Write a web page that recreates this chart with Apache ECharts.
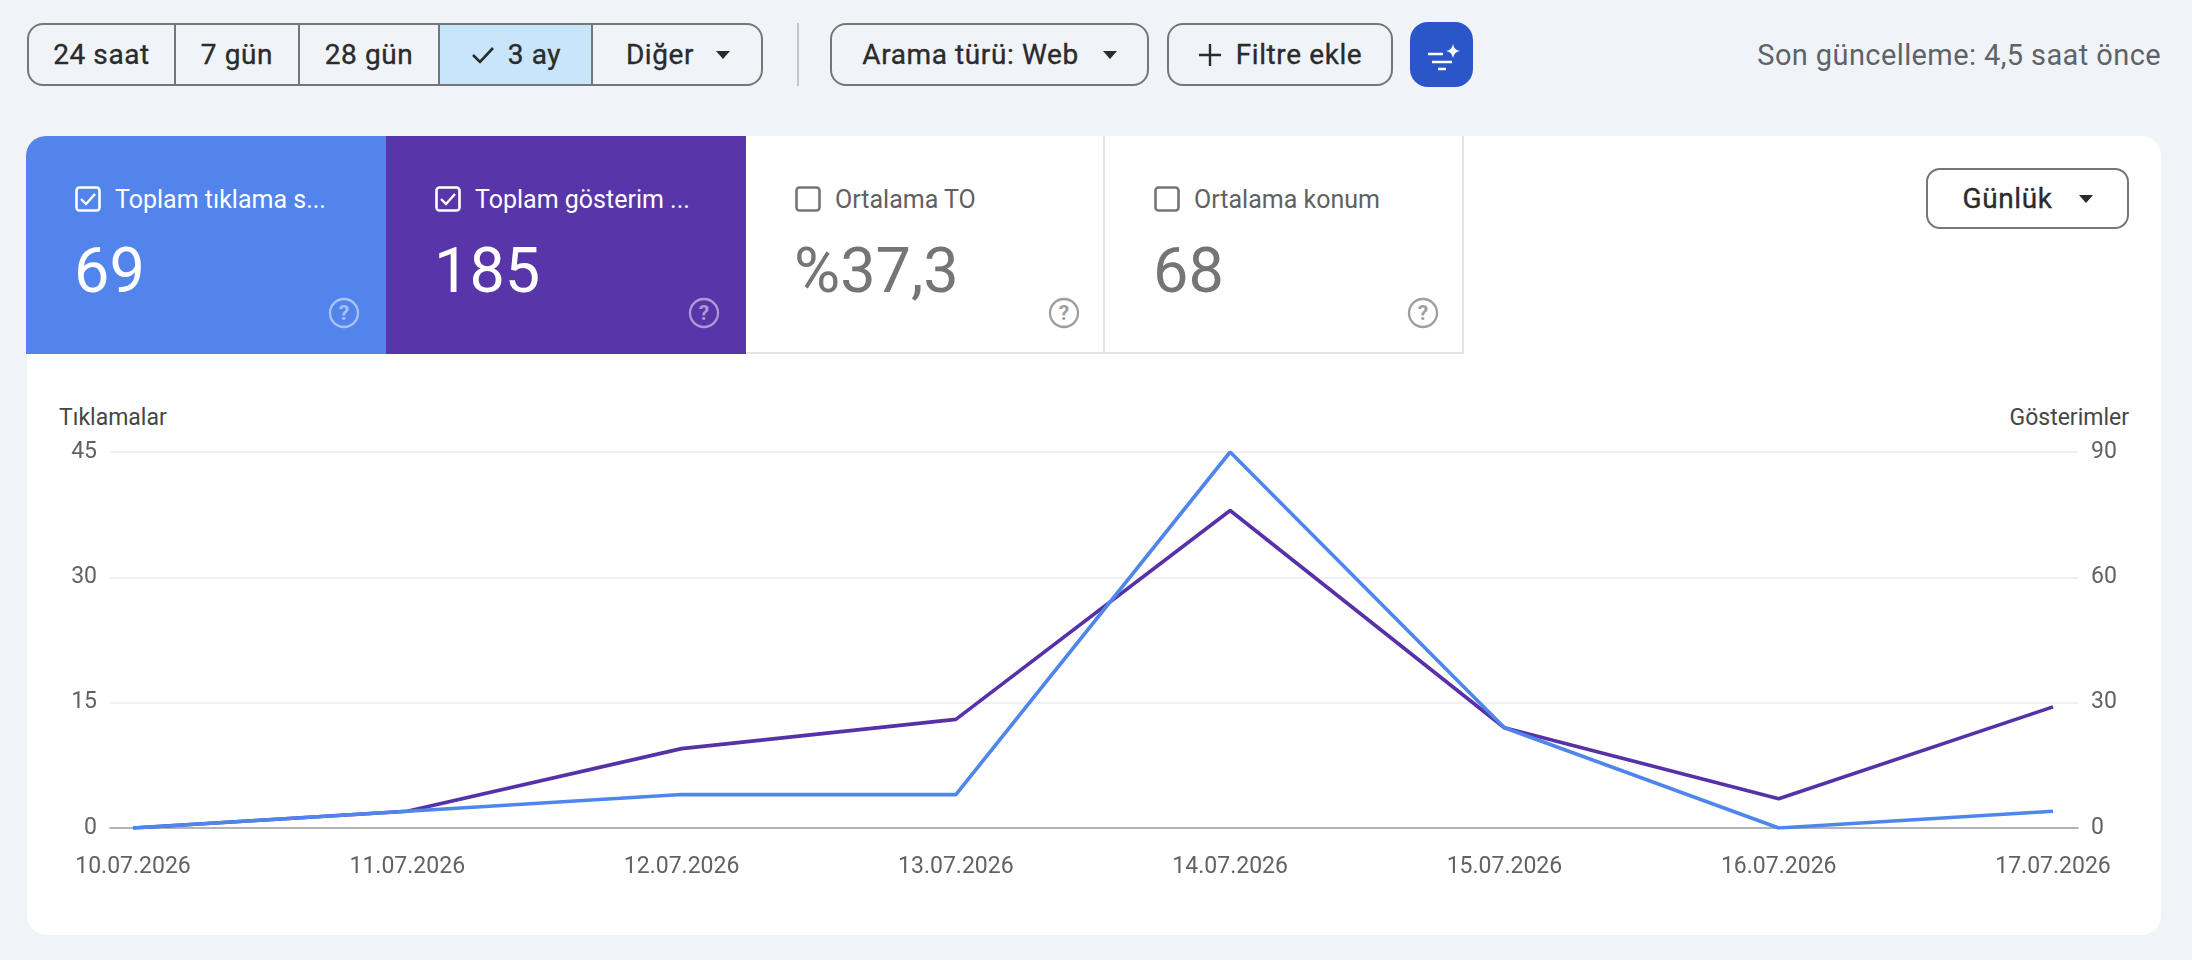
<!DOCTYPE html>
<html>
<head>
<meta charset="utf-8">
<script src="https://cdn.jsdelivr.net/npm/echarts@6/dist/echarts.min.js"></script>
<style>
  html,body{margin:0;padding:0;width:2192px;height:960px;background:#f0f4f9;font-family:Roboto,"Noto Sans",sans-serif;overflow:hidden;}
  .abs{position:absolute;}
  .btn{position:absolute;box-sizing:border-box;border:2px solid #747775;border-radius:16px;display:flex;align-items:center;justify-content:center;font-size:28px;font-weight:400;color:#2b2b2b;letter-spacing:0.6px;-webkit-text-stroke:0.35px #2b2b2b;}
  .seg{position:absolute;top:0;bottom:0;display:flex;align-items:center;justify-content:center;box-sizing:border-box;}
  .tri{width:0;height:0;border-left:7px solid transparent;border-right:7px solid transparent;border-top:8px solid #2b2b2b;}
  .tile{position:absolute;top:136px;height:218px;box-sizing:border-box;}
  .tile .cb{position:absolute;left:49px;top:50px;}
  .tile .lbl{position:absolute;left:89px;top:49px;line-height:30px;font-size:25px;white-space:nowrap;}
  .tile .num{position:absolute;left:48px;top:103px;font-size:63px;line-height:63px;}
  .tile .help{position:absolute;left:302px;top:161px;}
  .axname{position:absolute;top:404px;font-size:23px;color:#444746;line-height:28px;}
</style>
</head>
<body>
<!-- top toolbar -->
<div class="btn" style="left:27px;top:23px;width:736px;height:63px;overflow:hidden;justify-content:flex-start;">
  <div class="seg" style="left:0;width:147px;border-right:2px solid #747775;">24 saat</div>
  <div class="seg" style="left:147px;width:124px;border-right:2px solid #747775;">7 gün</div>
  <div class="seg" style="left:271px;width:140px;border-right:2px solid #747775;">28 gün</div>
  <div class="seg" style="left:411px;width:153px;border-right:2px solid #747775;background:#c9e5fb;">
    <svg width="26" height="22" viewBox="0 0 26 22" style="margin-right:12px"><path d="M3 11 L10 18 L23 4" fill="none" stroke="#2b2b2b" stroke-width="2.6"/></svg>3 ay</div>
  <div class="seg" style="left:564px;width:170px;"><span style="margin-right:22px">Diğer</span><div class="tri"></div></div>
</div>
<div class="abs" style="left:797px;top:23px;width:2px;height:63px;background:#c4c7c5;"></div>
<div class="btn" style="left:830px;top:23px;width:319px;height:63px;"><span style="margin-right:24px">Arama türü: Web</span><div class="tri"></div></div>
<div class="btn" style="left:1167px;top:23px;width:226px;height:63px;">
  <svg width="24" height="24" viewBox="0 0 24 24" style="margin-right:14px"><path d="M12 1 V23 M1 12 H23" stroke="#2b2b2b" stroke-width="2.4"/></svg>Filtre ekle</div>
<div class="abs" style="left:1410px;top:22px;width:63px;height:65px;border-radius:18px;background:#2a56c9;">
  <svg width="63" height="65" viewBox="0 0 63 65">
    <path d="M18 32 H33 M22 40 H42 M28 47 H36" stroke="#fff" stroke-width="2.6"/>
    <path d="M43 22 Q44 28 50 29 Q44 30 43 36 Q42 30 36 29 Q42 28 43 22 Z" fill="#fff"/>
  </svg>
</div>
<div class="abs" style="right:31px;top:37px;font-size:29px;line-height:36px;color:#5f6368;letter-spacing:0.4px;">Son güncelleme: 4,5 saat önce</div>

<!-- card -->
<div class="abs" style="left:27px;top:136px;width:2134px;height:799px;background:#fff;border-radius:20px;"></div>

<div class="tile" style="left:26px;width:360px;background:#5284ec;border-top-left-radius:20px;color:#fff;">
  <svg class="cb" width="26" height="26" viewBox="0 0 26 26"><rect x="1.5" y="1.5" width="23" height="23" rx="3" fill="none" stroke="#fff" stroke-width="2.6"/><path d="M6 13 L11 18 L20 8" fill="none" stroke="#fff" stroke-width="2.4"/></svg>
  <div class="lbl">Toplam tıklama s...</div>
  <div class="num">69</div>
  <svg class="help" width="32" height="32" viewBox="0 0 32 32"><circle cx="16" cy="16" r="14" fill="none" stroke="rgba(255,255,255,0.5)" stroke-width="2.3"/><text x="16" y="23" text-anchor="middle" font-size="21" font-weight="700" font-family="Roboto" fill="rgba(255,255,255,0.5)">?</text></svg>
</div>
<div class="tile" style="left:386px;width:360px;background:#5835a9;color:#fff;">
  <svg class="cb" width="26" height="26" viewBox="0 0 26 26"><rect x="1.5" y="1.5" width="23" height="23" rx="3" fill="none" stroke="#fff" stroke-width="2.6"/><path d="M6 13 L11 18 L20 8" fill="none" stroke="#fff" stroke-width="2.4"/></svg>
  <div class="lbl">Toplam gösterim ...</div>
  <div class="num">185</div>
  <svg class="help" width="32" height="32" viewBox="0 0 32 32"><circle cx="16" cy="16" r="14" fill="none" stroke="rgba(255,255,255,0.5)" stroke-width="2.3"/><text x="16" y="23" text-anchor="middle" font-size="21" font-weight="700" font-family="Roboto" fill="rgba(255,255,255,0.5)">?</text></svg>
</div>
<div class="tile" style="left:746px;width:359px;background:#fff;color:#757575;border-right:2px solid #e3e3e3;border-bottom:2px solid #e3e3e3;">
  <svg class="cb" width="26" height="26" viewBox="0 0 26 26"><rect x="1.5" y="1.5" width="23" height="23" rx="3" fill="none" stroke="#757575" stroke-width="2.6"/></svg>
  <div class="lbl" style="color:#616161">Ortalama TO</div>
  <div class="num">%37,3</div>
  <svg class="help" width="32" height="32" viewBox="0 0 32 32"><circle cx="16" cy="16" r="14" fill="none" stroke="#9e9e9e" stroke-width="2.3"/><text x="16" y="23" text-anchor="middle" font-size="21" font-weight="700" font-family="Roboto" fill="#9e9e9e">?</text></svg>
</div>
<div class="tile" style="left:1105px;width:359px;background:#fff;color:#757575;border-right:2px solid #e3e3e3;border-bottom:2px solid #e3e3e3;">
  <svg class="cb" width="26" height="26" viewBox="0 0 26 26"><rect x="1.5" y="1.5" width="23" height="23" rx="3" fill="none" stroke="#757575" stroke-width="2.6"/></svg>
  <div class="lbl" style="color:#616161">Ortalama konum</div>
  <div class="num">68</div>
  <svg class="help" width="32" height="32" viewBox="0 0 32 32"><circle cx="16" cy="16" r="14" fill="none" stroke="#9e9e9e" stroke-width="2.3"/><text x="16" y="23" text-anchor="middle" font-size="21" font-weight="700" font-family="Roboto" fill="#9e9e9e">?</text></svg>
</div>

<div class="btn" style="left:1926px;top:168px;width:203px;height:61px;border-radius:14px;"><span style="margin-right:26px">Günlük</span><div class="tri"></div></div>

<div class="axname" style="left:59px;">Tıklamalar</div>
<div class="axname" style="right:63px;">Gösterimler</div>

<div id="chart" class="abs" style="left:0;top:380px;width:2192px;height:560px;"></div>

<script>
const dates = ['10.07.2026','11.07.2026','12.07.2026','13.07.2026','14.07.2026','15.07.2026','16.07.2026','17.07.2026'];
const clicks = [0, 2, 4, 4, 45, 12, 0, 2];
const impressions = [0, 4, 19, 26, 76, 24, 7, 29];
const clickAxis = { min: 0, max: 45, interval: 15 };
const impressionAxis = { min: 0, max: 90, interval: 30 };

const txt = { fontSize: 23, color: '#5f6368', fontFamily: 'Roboto' };
const chart = echarts.init(document.getElementById('chart'), null, { renderer: 'canvas' });
chart.setOption({
  animation: false,
  grid: [
    { left: 110, right: 114, top: 72, bottom: 112 },
    { left: 133, right: 139, top: 72, bottom: 112 }
  ],
  xAxis: [
    { gridIndex: 0, type: 'value', min: 0, max: 1,
      axisLine: { show: true, lineStyle: { color: '#9e9e9e', width: 1.6 } },
      axisTick: { show: false }, axisLabel: { show: false }, splitLine: { show: false } },
    { gridIndex: 1, type: 'category', data: dates, boundaryGap: false,
      axisLine: { show: false }, axisTick: { show: false },
      axisLabel: Object.assign({ margin: 28, interval: 0 }, txt), splitLine: { show: false } }
  ],
  yAxis: [
    { gridIndex: 0, type: 'value', position: 'left', min: clickAxis.min, max: clickAxis.max, interval: clickAxis.interval,
      axisLine: { show: false }, axisTick: { show: false },
      axisLabel: Object.assign({ margin: 13 }, txt),
      splitLine: { lineStyle: { color: '#ebebeb', width: 1.6 } } },
    { gridIndex: 0, type: 'value', position: 'right', min: impressionAxis.min, max: impressionAxis.max, interval: impressionAxis.interval,
      axisLine: { show: false }, axisTick: { show: false },
      axisLabel: Object.assign({ margin: 13 }, txt),
      splitLine: { show: false } },
    { gridIndex: 1, type: 'value', min: clickAxis.min, max: clickAxis.max, show: false },
    { gridIndex: 1, type: 'value', min: impressionAxis.min, max: impressionAxis.max, show: false }
  ],
  series: [
    { name: 'Gösterimler', type: 'line', xAxisIndex: 1, yAxisIndex: 3, data: impressions,
      symbol: 'none', lineStyle: { color: '#5631a8', width: 3.6 }, itemStyle: { color: '#5631a8' } },
    { name: 'Tıklamalar', type: 'line', xAxisIndex: 1, yAxisIndex: 2, data: clicks,
      symbol: 'none', lineStyle: { color: '#4f86ec', width: 3.6 }, itemStyle: { color: '#4f86ec' } }
  ]
});
</script>
</body>
</html>
